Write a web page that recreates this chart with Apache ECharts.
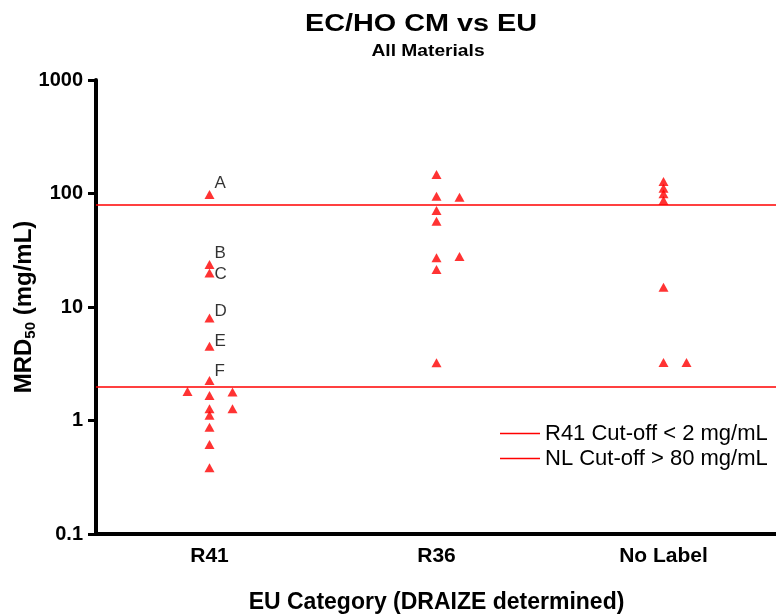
<!DOCTYPE html>
<html>
<head>
<meta charset="utf-8">
<style>
  html, body { margin: 0; padding: 0; background: #ffffff; }
  #chart { width: 776px; height: 616px; }
</style>
<script src="https://cdn.jsdelivr.net/npm/echarts@6/dist/echarts.min.js"></script>
</head>
<body>
<div id="chart"></div>
<script>
// EU categories along the x axis
const categories = ['R41', 'R36', 'No Label'];

// MRD50 values (mg/mL), grouped by category and by column within the category
const r41Centre = [98, 23.7, 19.9, 8.0, 4.5, 2.25, 1.66, 1.27, 1.11, 0.87, 0.615, 0.383];
const r41Left = [1.80];
const r41Right = [1.78, 1.27];
const r36Centre = [147, 94.5, 70.8, 57, 27.1, 21.4, 3.22];
const r36Right = [92.7, 27.9];
const nlCentre = [127.6, 111, 99.4, 86.7, 14.9, 3.24];
const nlRight = [3.24];

// Letters attached to the first R41 materials
const r41Letters = ['A', 'B', 'C', 'D', 'E', 'F'];
// vertical nudge (px) of each letter relative to its triangle
const letterLift = [-11, -11, 1, -7, -5, -9];

// Classification cut-offs
const cutR41 = 2;
const cutNL = 80;
const cutNames = ['R41 Cut-off < 2 mg/mL', 'NL Cut-off > 80 mg/mL'];

// Y axis range (log scale)
const yMin = 0.1;
const yMax = 1000;

const RED = '#ff0000';
const FONT = '"Liberation Sans", Arial, sans-serif';

function points(catIndex, values, letters) {
  return values.map((v, i) => {
    const item = { value: [catIndex, v] };
    if (letters && letters[i]) {
      item.label = { show: true, formatter: letters[i], offset: [-5, letterLift[i]] };
    }
    return item;
  });
}

function scatter(data, shift) {
  return {
    type: 'scatter',
    data: data,
    symbol: 'triangle',
    symbolSize: [10, 9],
    symbolOffset: [shift, 0],
    itemStyle: { color: RED },
    label: {
      show: false,
      position: 'right',
      color: '#000',
      fontSize: 17,
      fontFamily: FONT
    },
    emphasis: { disabled: true },
    z: 5
  };
}

function cutLine(name, value) {
  return {
    type: 'line',
    name: name,
    data: [],
    color: RED,
    markLine: {
      silent: true,
      symbol: 'none',
      label: { show: false },
      lineStyle: { color: RED, width: 1.5, type: 'solid' },
      data: [{ yAxis: value }]
    }
  };
}

const chart = echarts.init(document.getElementById('chart'));

chart.setOption({
  animation: false,
  backgroundColor: '#ffffff',
  textStyle: { fontFamily: FONT },
  graphic: [
    {
      type: 'text', x: 421, y: 24, scaleX: 1.2,
      style: {
        text: 'EC/HO CM vs EU', font: 'bold 24px ' + FONT,
        fill: '#000', textAlign: 'center', textVerticalAlign: 'middle'
      }
    },
    {
      type: 'text', x: 428, y: 52, scaleX: 1.2,
      style: {
        text: 'All Materials', font: 'bold 16px ' + FONT,
        fill: '#000', textAlign: 'center', textVerticalAlign: 'middle'
      }
    }
  ],
  grid: {
    left: 96, right: -1, top: 80, bottom: 82,
    containLabel: false, outerBoundsMode: 'none'
  },
  legend: {
    orient: 'vertical',
    left: 495,
    top: 416,
    padding: 5,
    itemGap: 0,
    itemWidth: 40,
    itemHeight: 1.5,
    icon: 'rect',
    selectedMode: false,
    data: cutNames,
    textStyle: { fontSize: 22, color: '#000', lineHeight: 25, fontFamily: FONT }
  },
  xAxis: {
    type: 'category',
    data: categories,
    boundaryGap: true,
    name: 'EU Category (DRAIZE determined)',
    nameLocation: 'middle',
    nameGap: 57,
    nameMoveOverlap: false,
    nameTextStyle: { fontSize: 23, fontWeight: 'bold', color: '#000', fontFamily: FONT },
    axisLine: { lineStyle: { color: '#000', width: 4 } },
    axisTick: { alignWithLabel: true, length: 8, lineStyle: { color: '#000', width: 3 } },
    axisLabel: { fontSize: 21, fontWeight: 'bold', color: '#000', margin: 12, fontFamily: FONT },
    splitLine: { show: false }
  },
  yAxis: {
    type: 'log',
    logBase: 10,
    min: yMin,
    max: yMax,
    name: '{a|MRD}{s|50}{a| (mg/mL)}',
    nameLocation: 'middle',
    nameGap: 58,
    nameMoveOverlap: false,
    nameRotate: 90,
    nameTextStyle: {
      color: '#000',
      rich: {
        a: { fontSize: 24, fontWeight: 'bold', color: '#000', lineHeight: 28, fontFamily: FONT },
        s: { fontSize: 15, fontWeight: 'bold', color: '#000', lineHeight: 13, verticalAlign: 'bottom', fontFamily: FONT }
      }
    },
    axisLine: { show: true, lineStyle: { color: '#000', width: 4 } },
    axisTick: { show: true, length: 8, lineStyle: { color: '#000', width: 3 } },
    axisLabel: {
      fontSize: 20, fontWeight: 'bold', color: '#000', margin: 13, fontFamily: FONT,
      formatter: v => String(+v.toPrecision(3))
    },
    splitLine: { show: false },
    minorTick: { show: false }
  },
  series: [
    scatter(points(0, r41Centre, r41Letters), 0),
    scatter(points(0, r41Left), -22),
    scatter(points(0, r41Right), 23),
    scatter(points(1, r36Centre), 0),
    scatter(points(1, r36Right), 23),
    scatter(points(2, nlCentre), 0),
    scatter(points(2, nlRight), 23),
    cutLine(cutNames[0], cutR41),
    cutLine(cutNames[1], cutNL)
  ]
});
</script>
</body>
</html>
